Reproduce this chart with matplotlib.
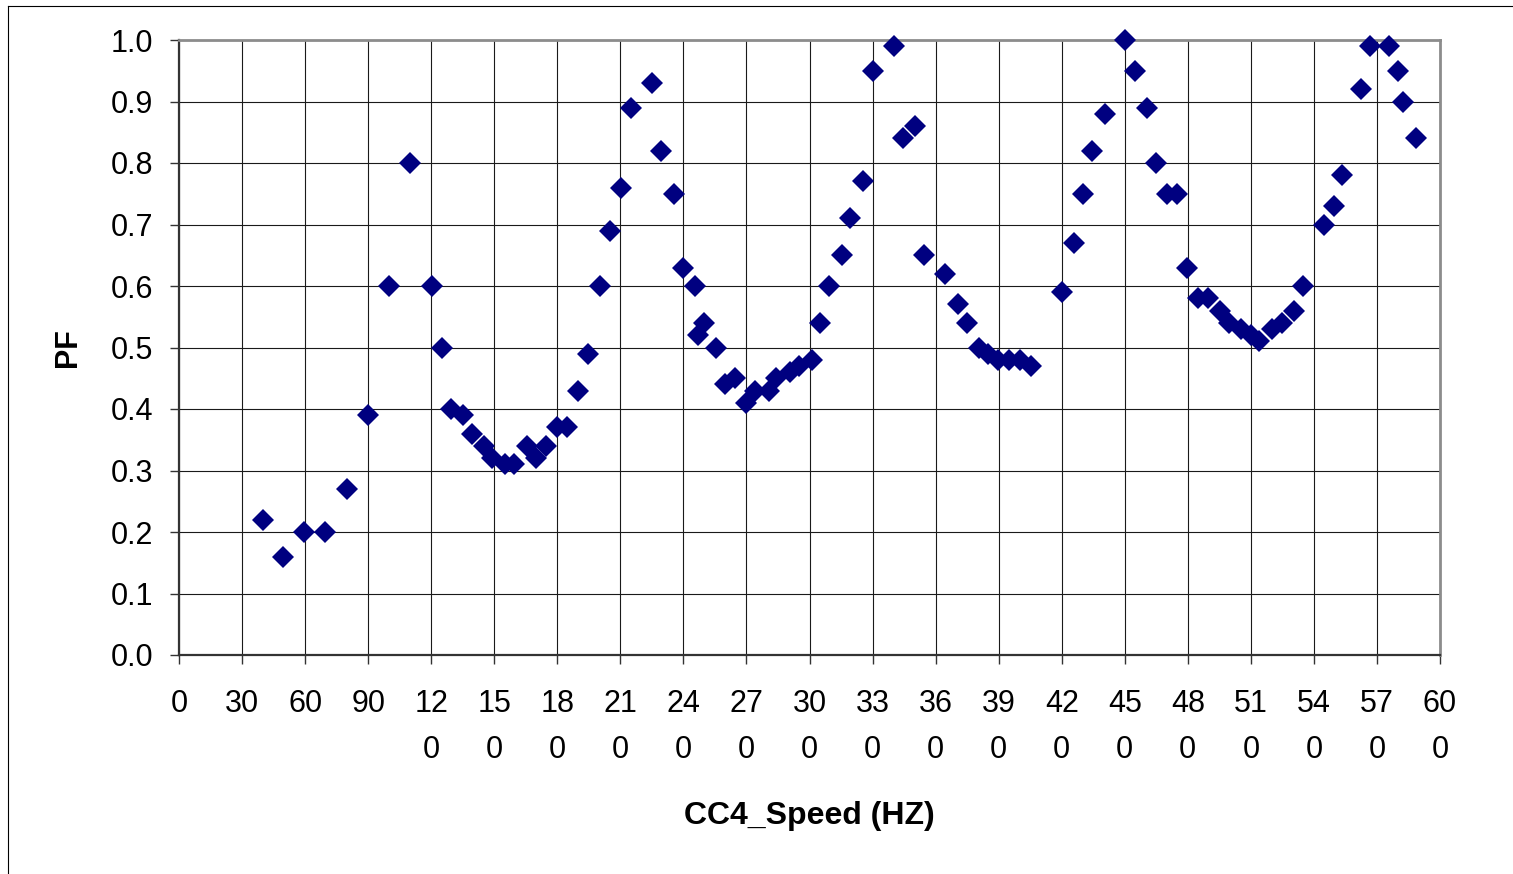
import matplotlib
matplotlib.use('Agg')
import matplotlib.pyplot as plt
from matplotlib.lines import Line2D

plt.rcParams['font.family'] = ['Liberation Sans', 'DejaVu Sans']

# 测量数据：转速 (Hz) 与 PF
speed = [40, 49.5, 59.5, 69.5, 80, 90, 100, 110, 120.5, 125, 129.5, 135, 139.5, 145, 149, 155, 159.5,
         165.5, 170, 174.5, 180, 184.5, 190, 194.5, 200.5, 205, 210.5, 215, 225, 229.5, 235.5, 240,
         245.5, 247, 250, 255.5, 260, 264.5, 270, 274, 280.5, 284, 290.5, 295, 301, 305, 309.5, 315.5,
         319.5, 325.5, 330, 340, 344.5, 350, 354.5, 364.5, 370.5, 375, 380.5, 385, 389.5, 395, 400,
         405.5, 420, 426, 430, 434.5, 440.5, 450, 455, 460.5, 465, 470, 475, 479.5, 485, 489.5, 495.5,
         499.5, 505.5, 510, 514, 520, 525, 530.5, 535, 545, 549.5, 553.5, 562.5, 566.5, 575.5, 580,
         582.5, 588.5]
pf = [0.22, 0.16, 0.20, 0.20, 0.27, 0.39, 0.60, 0.80, 0.60, 0.50, 0.40, 0.39, 0.36, 0.34, 0.32, 0.31, 0.31,
      0.34, 0.32, 0.34, 0.37, 0.37, 0.43, 0.49, 0.60, 0.69, 0.76, 0.89, 0.93, 0.82, 0.75, 0.63,
      0.60, 0.52, 0.54, 0.50, 0.44, 0.45, 0.41, 0.43, 0.43, 0.45, 0.46, 0.47, 0.48, 0.54, 0.60, 0.65,
      0.71, 0.77, 0.95, 0.99, 0.84, 0.86, 0.65, 0.62, 0.57, 0.54, 0.50, 0.49, 0.48, 0.48, 0.48,
      0.47, 0.59, 0.67, 0.75, 0.82, 0.88, 1.00, 0.95, 0.89, 0.80, 0.75, 0.75, 0.63, 0.58, 0.58, 0.56,
      0.54, 0.53, 0.52, 0.51, 0.53, 0.54, 0.56, 0.60, 0.70, 0.73, 0.78, 0.92, 0.99, 0.99, 0.95,
      0.90, 0.84]

x_ticks = list(range(0, 601, 30))
x_tick_labels = ['0', '30', '60', '90', '12\n0', '15\n0', '18\n0', '21\n0', '24\n0', '27\n0', '30\n0',
                 '33\n0', '36\n0', '39\n0', '42\n0', '45\n0', '48\n0', '51\n0', '54\n0', '57\n0', '60\n0']
y_ticks = [0.0, 0.1, 0.2, 0.3, 0.4, 0.5, 0.6, 0.7, 0.8, 0.9, 1.0]
y_tick_labels = ['0.0', '0.1', '0.2', '0.3', '0.4', '0.5', '0.6', '0.7', '0.8', '0.9', '1.0']

W, H = 1513, 874
fig = plt.figure(figsize=(W / 100, H / 100), dpi=100)
ax = fig.add_axes([179 / W, 1 - 655 / H, (1440 - 179) / W, (655 - 40) / H])

ax.plot(speed, pf, linestyle='none', marker='D', markersize=11, color='#000080',
        markeredgewidth=0, clip_on=False, zorder=3)

ax.set_xlim(0, 600)
ax.set_ylim(0, 1.0)
ax.set_xticks(x_ticks)
ax.set_xticklabels(x_tick_labels, fontsize=22, linespacing=1.7)
ax.set_yticks(y_ticks)
ax.set_yticklabels(y_tick_labels, fontsize=22)
ax.tick_params(axis='x', direction='out', length=6.5, width=1, color='#333333', pad=18)
ax.tick_params(axis='y', direction='out', length=6.5, width=1, color='#333333', pad=12)

ax.grid(True, color='#1a1a1a', linewidth=0.8)
ax.set_axisbelow(True)

for side in ['left', 'bottom']:
    ax.spines[side].set_color('#333333')
    ax.spines[side].set_linewidth(1.6)
for side in ['top', 'right']:
    ax.spines[side].set_color('#8c8c8c')
    ax.spines[side].set_linewidth(2)

ax.set_xlabel('CC4_Speed (HZ)', fontsize=23, fontweight='bold')
ax.xaxis.label.set_va('center')
ax.xaxis.set_label_coords(0.5, (655 - 816) / 615)
ax.set_ylabel('PF', fontsize=22, fontweight='bold')
ax.yaxis.label.set_va('center')
ax.yaxis.set_label_coords((68 - 179) / 1261, 0.5)

# 外框（左、上）
fig.add_artist(Line2D([8 / W, 1], [1 - 6 / H, 1 - 6 / H], transform=fig.transFigure, color='black', linewidth=0.8))
fig.add_artist(Line2D([8 / W, 8 / W], [1 - 6 / H, 0], transform=fig.transFigure, color='black', linewidth=0.8))

fig.savefig('out.png', dpi=100)
